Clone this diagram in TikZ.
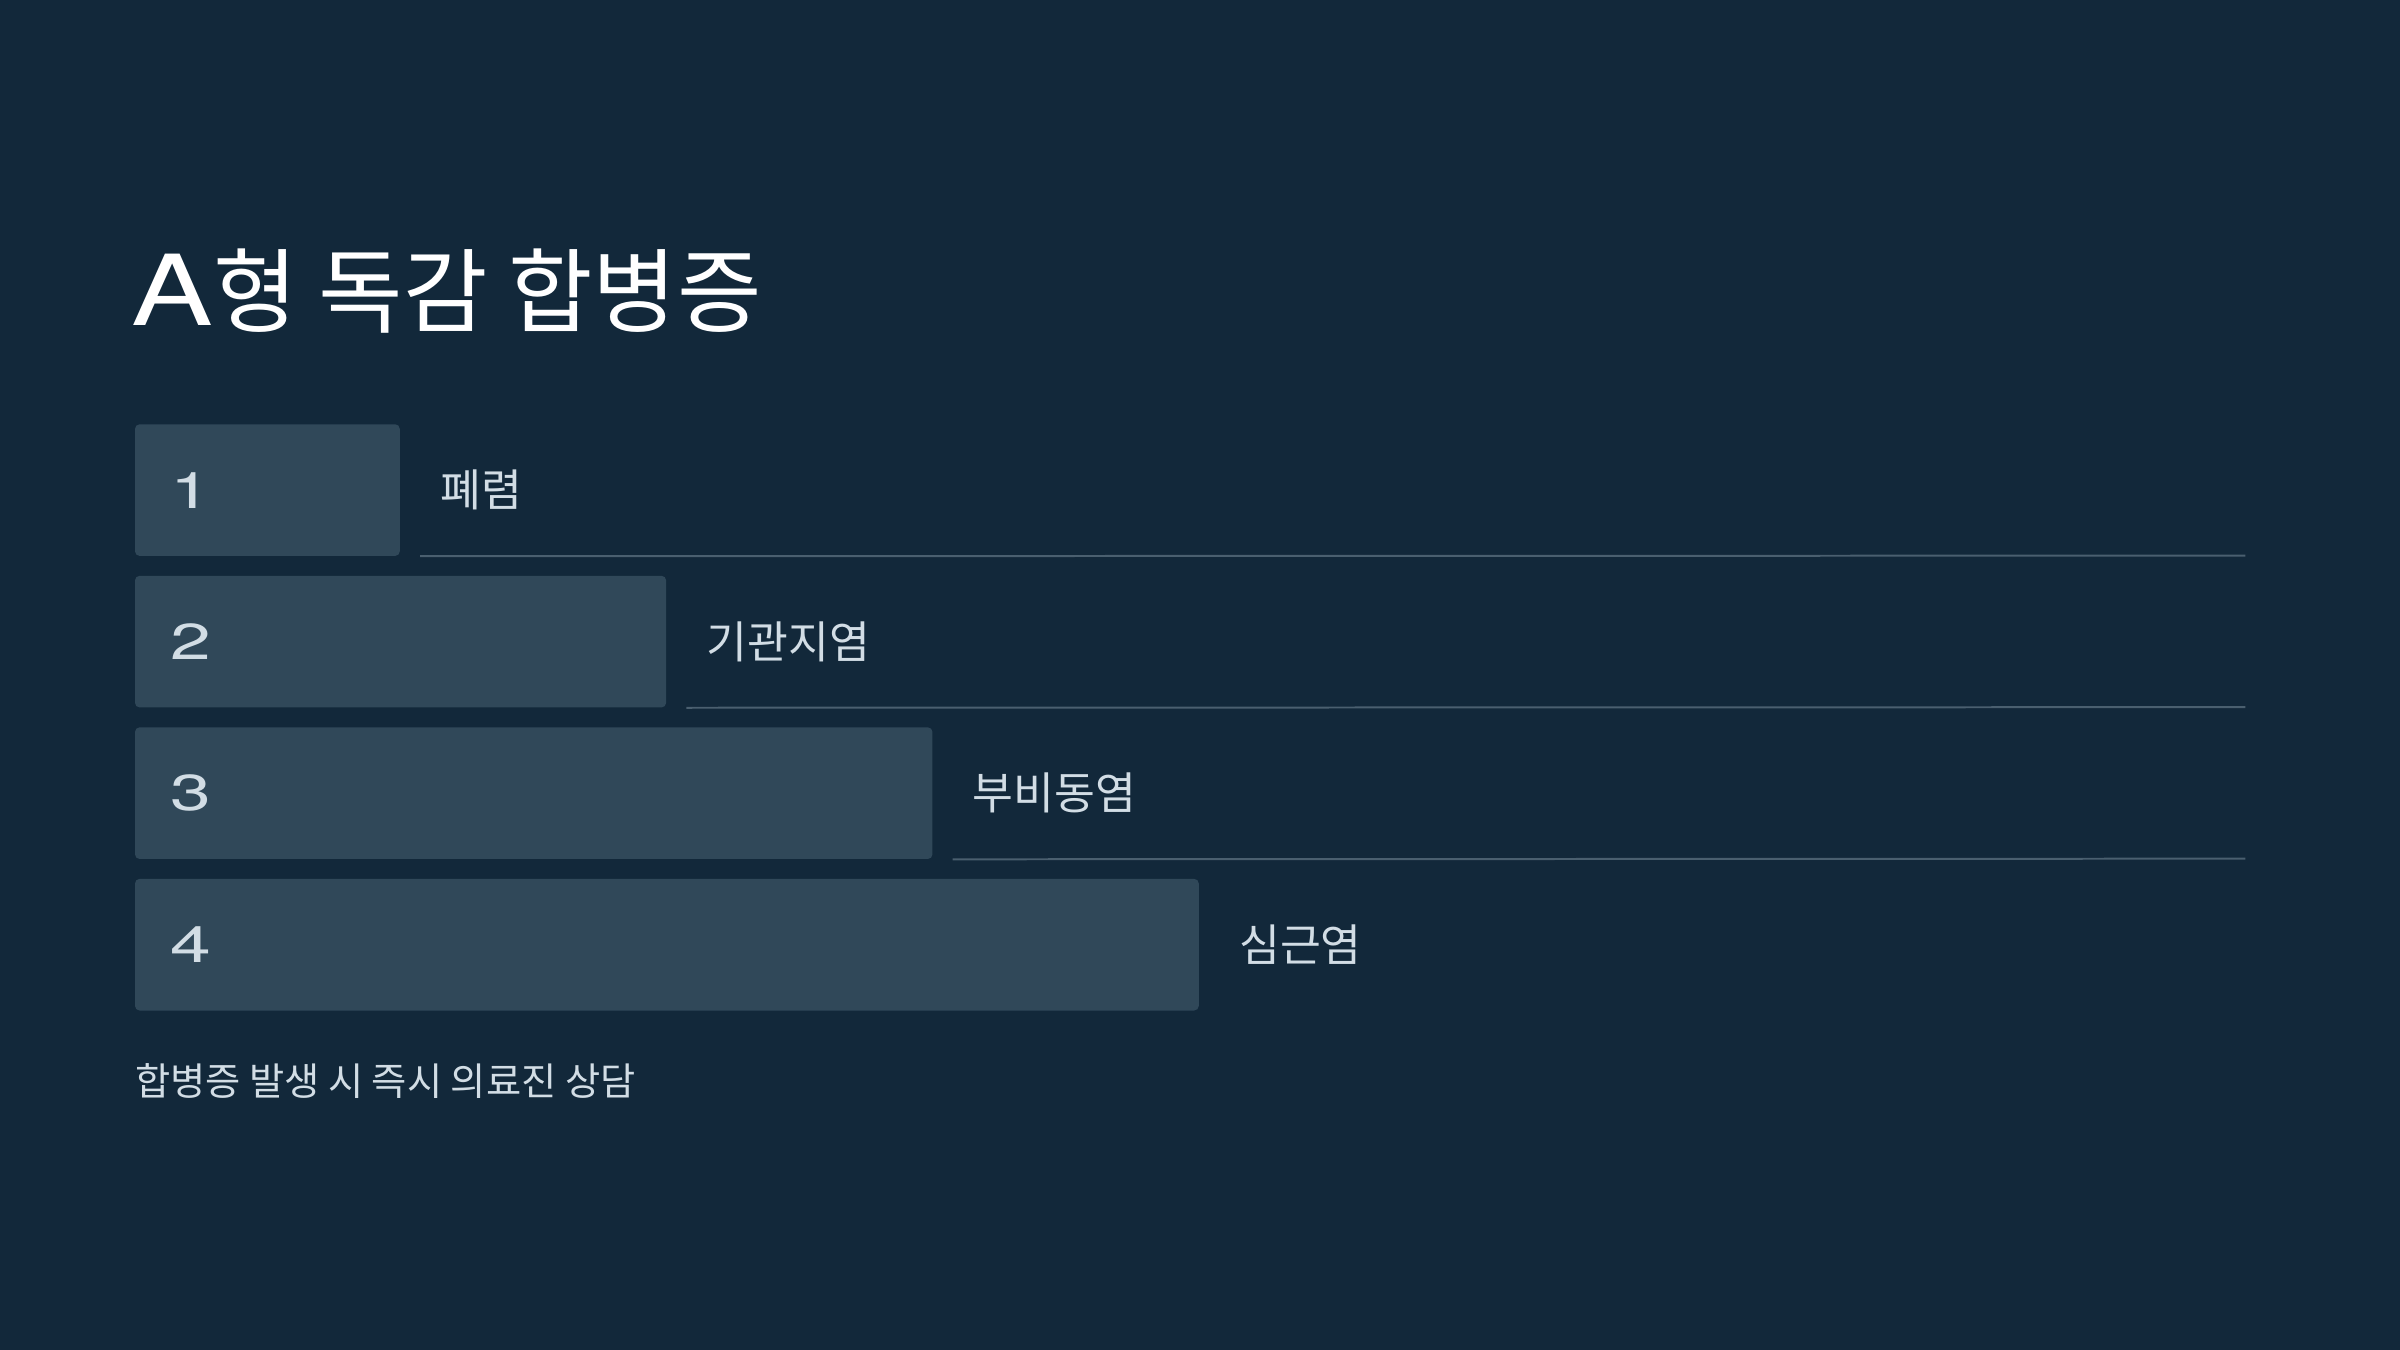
\documentclass[tikz,border=0pt]{standalone}
\usepackage{fontspec}
\setmainfont{TeX Gyre Heros}[FakeStretch=1.25]
\newfontfamily\numfont{TeX Gyre Heros}[FakeStretch=1.45]
\newfontfamily\krfont{Noto Sans CJK KR}
\usetikzlibrary{positioning}
\definecolor{bgcol}{HTML}{12283A}
\definecolor{barcol}{HTML}{304859}
\definecolor{rulecol}{HTML}{4A5F6F}
\definecolor{txtcol}{HTML}{D2DDE5}
\tikzset{
	barbox/.style={fill=barcol, rounded corners=3pt, inner sep=0pt, anchor=north west, minimum height=86pt},
	numtext/.style={anchor=west, inner sep=0pt, text=txtcol, font=\numfont\fontsize{33}{33}\selectfont},
	labtext/.style={anchor=west, inner sep=0pt, text=txtcol, font=\krfont\fontsize{29}{29}\selectfont},
}
\begin{document}
\begin{tikzpicture}[x=1pt, y=-1pt]
		\fill[bgcol] (0,0) rectangle (1568,882);
		\useasboundingbox (0,0) rectangle (1568,882);
		\node (title) at (86,190) [anchor=west, inner sep=0pt, text=white]
			{\fontsize{64}{64}\selectfont A\krfont\fontsize{60}{60}\selectfont 형 독감 합병증};
		\foreach \i/\lab in {1/폐렴, 2/기관지염, 3/부비동염, 4/심근염} {
			\pgfmathsetmacro{\w}{174*\i-1}
			\pgfmathsetmacro{\yt}{277+99*(\i-1)}
			\node (box\i) at (88,\yt) [barbox, minimum width=\w pt] {};
			\node (num\i) [numtext] at ([xshift=23pt]box\i.west) {\i};
			\node (lab\i) [labtext] at ([xshift=26pt]box\i.east) {\lab};
			\ifnum\i<4
				\coordinate (end\i) at (1467,\yt+86);
				\draw[rulecol, line width=1.3pt] ([xshift=13pt]box\i.south east) -- (end\i);
			\fi
		}
		\node (note) at (88,706) [anchor=west, inner sep=0pt, text=txtcol, font=\krfont\fontsize{25}{25}\selectfont]
			{합병증 발생 시 즉시 의료진 상담};
	\end{tikzpicture}
\end{document}
